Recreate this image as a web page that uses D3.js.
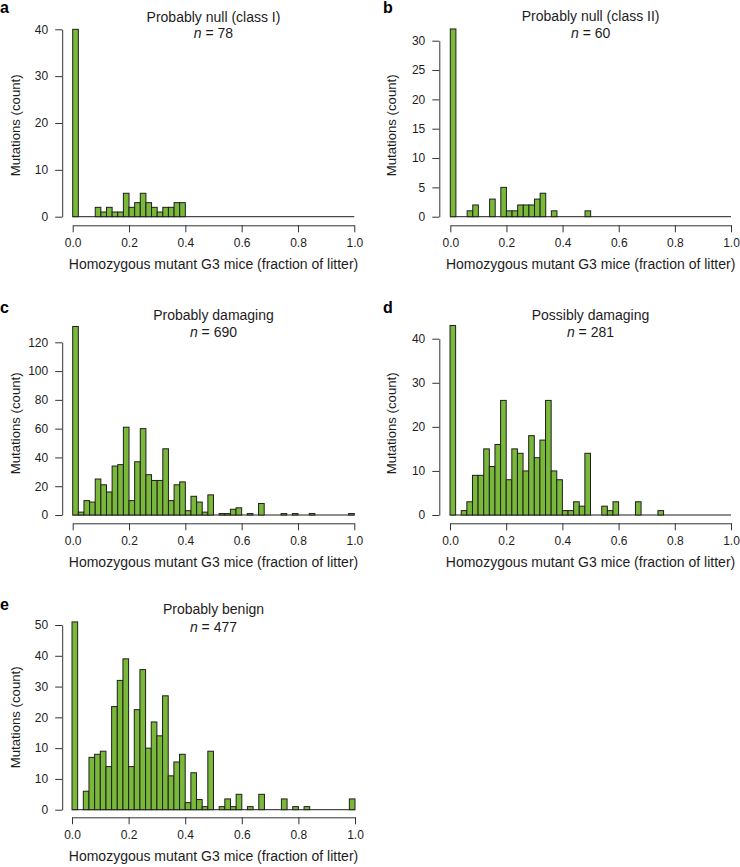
<!DOCTYPE html>
<html><head><meta charset="utf-8">
<script src="https://cdn.jsdelivr.net/npm/d3@7"></script>
<style>
body{margin:0;background:#fff;}
svg{display:block;font-family:"Liberation Sans",Arial,Helvetica,sans-serif;}
</style></head><body>
<svg id="chart" width="740" height="867"></svg>
<script>
// ---------- data ----------
const binWidth = 0.02;
const xTicks = [0, 0.2, 0.4, 0.6, 0.8, 1.0];
const xTickLabels = ["0.0", "0.2", "0.4", "0.6", "0.8", "1.0"];
const panelLetters = ["a", "b", "c", "d", "e"];
const panelTitles = ["Probably null (class I)", "Probably null (class II)", "Probably damaging", "Possibly damaging", "Probably benign"];
const panelN = [78, 60, 690, 281, 477];
const xTitle = "Homozygous mutant G3 mice (fraction of litter)";
const yTitle = "Mutations (count)";

// counts per bin (bin i covers [0.02*i, 0.02*(i+1)])
const countsA = [40,0,0,0,2,1,2,1,1,5,2,3,5,3,2,1,2,2,3,3,0,0,0,0,0,0,0,0,0,0,0,0,0,0,0,0,0,0,0,0,0,0,0,0,0,0,0,0,0,0];
const countsB = [32,0,0,1,2,0,0,3,0,5,1,1,2,2,2,3,4,0,1,0,0,0,0,0,1,0,0,0,0,0,0,0,0,0,0,0,0,0,0,0,0,0,0,0,0,0,0,0,0,0];
const countsC = [131,2,10,9,25,21,16,34,35,61,10,37,60,28,24,24,46,10,21,23,3,13,9,2,14,0,1,1,4,5,0,1,0,8,0,0,0,1,0,1,0,0,1,0,0,0,0,0,0,1];
const countsD = [43,0,1,3,9,9,15,11,16,26,8,15,14,10,18,13,17,26,10,8,1,1,3,2,14,0,0,2,1,3,0,0,0,3,0,0,0,1,0,0,0,0,0,0,0,0,0,0,0,0];
const countsE = [61,0,6,17,18,19,14,33.5,42,49,14,32.5,45.5,20,28.5,24,37,11,15.5,18,2.3,12,3.3,1,19,0,1,3.5,1,5,0,1,0,5,0,0,0,3.5,0,1,0,1,0,0,0,0,0,0,0,3.5];

const yTicksA = [0,10,20,30,40];
const yTicksB = [0,5,10,15,20,25,30];
const yTicksC = [0,20,40,60,80,100,120];
const yTicksD = [0,10,20,30,40];
const yTicksE = [0,10,20,30,40,50,60];
const yTickLabelsA = ["0","10","20","30","40"];
const yTickLabelsB = ["0","5","10","15","20","25","30"];
const yTickLabelsC = ["0","20","40","60","80","100","120"];
const yTickLabelsD = ["0","10","20","30","40"];
const yTickLabelsE = ["0","10","10","20","30","40","50"];

const panelCounts = [countsA, countsB, countsC, countsD, countsE];
const panelYTicks = [yTicksA, yTicksB, yTicksC, yTicksD, yTicksE];
const panelYTickLabels = [yTickLabelsA, yTickLabelsB, yTickLabelsC, yTickLabelsD, yTickLabelsE];

// ---------- layout (pixels) ----------
const layout = [
  {x0:72.7, x1:354.3, yBase:216.7, yTopPx:29.3, axisX:62.2, xAxisY:225.3, titleY:21.7, nY:38.3, letterX:0, letterY:13, yTitleX:15},
  {x0:450.3, x1:731, yBase:216.7, yTopPx:40.7, axisX:439.3, xAxisY:225.3, titleY:21, nY:37.5, letterX:383, letterY:13, yTitleX:391.5},
  {x0:72.7, x1:354.3, yBase:515, yTopPx:342.3, axisX:62.2, xAxisY:523.3, titleY:320, nY:336.7, letterX:0, letterY:313, yTitleX:15},
  {x0:450, x1:731, yBase:515, yTopPx:338.7, axisX:439.3, xAxisY:523.3, titleY:320, nY:336.7, letterX:383, letterY:313, yTitleX:391.5},
  {x0:72, x1:355, yBase:809.7, yTopPx:625, axisX:62.2, xAxisY:817.3, titleY:614.3, nY:631.7, letterX:0, letterY:610, yTitleX:15}
];

const textColor = "#1e1c1d";
const axisColor = "#333";
const barFill = "#7ab83a";
const barStroke = "#1f1f1f";

const svg = d3.select("#chart");

panelCounts.forEach((counts, p) => {
  const L = layout[p];
  const yTicks = panelYTicks[p];
  const yMaxTick = yTicks[yTicks.length - 1];
  const x = d3.scaleLinear().domain([0, 1]).range([L.x0, L.x1]);
  const y = d3.scaleLinear().domain([0, yMaxTick]).range([L.yBase, L.yTopPx]);
  const g = svg.append("g");

  // baseline (zero-height bins)
  g.append("line")
    .attr("x1", x(0)).attr("x2", x(1))
    .attr("y1", y(0)).attr("y2", y(0))
    .attr("stroke", barStroke).attr("stroke-width", 1);

  // bars
  const bins = counts.map((c, i) => ({x0: i * binWidth, x1: (i + 1) * binWidth, c}));
  g.selectAll("rect.bar").data(bins.filter(d => d.c > 0)).join("rect")
    .attr("class", "bar")
    .attr("x", d => x(d.x0))
    .attr("width", d => x(d.x1) - x(d.x0))
    .attr("y", d => y(d.c))
    .attr("height", d => y(0) - y(d.c))
    .attr("fill", barFill)
    .attr("stroke", barStroke)
    .attr("stroke-width", 1);

  // x axis
  const xAxis = d3.axisBottom(x).tickValues(xTicks)
    .tickFormat((d, i) => xTickLabels[i]).tickSize(7).tickSizeOuter(0).tickPadding(6);
  const gx = g.append("g").attr("transform", `translate(0,${L.xAxisY})`).call(xAxis);
  gx.select(".domain").attr("stroke", axisColor);
  gx.selectAll(".tick line").attr("stroke", axisColor);
  gx.selectAll(".tick text").attr("fill", textColor).attr("font-size", 12)
    .attr("font-family", "Liberation Sans, Arial, sans-serif");

  // y axis
  const yLabels = panelYTickLabels[p];
  const yAxis = d3.axisLeft(y).tickValues(yTicks)
    .tickFormat((d, i) => yLabels[i]).tickSize(7).tickSizeOuter(0).tickPadding(7);
  const gy = g.append("g").attr("transform", `translate(${L.axisX},0)`).call(yAxis);
  gy.select(".domain").attr("stroke", axisColor);
  gy.selectAll(".tick line").attr("stroke", axisColor);
  gy.selectAll(".tick text").attr("fill", textColor).attr("font-size", 12)
    .attr("font-family", "Liberation Sans, Arial, sans-serif");

  const cx = (L.x0 + L.x1) / 2;
  // title
  g.append("text").attr("x", cx).attr("y", L.titleY).attr("text-anchor", "middle")
    .attr("font-size", 14).attr("fill", textColor).text(panelTitles[p]);
  const nt = g.append("text").attr("x", cx).attr("y", L.nY).attr("text-anchor", "middle")
    .attr("font-size", 14).attr("fill", textColor);
  nt.append("tspan").attr("font-style", "italic").text("n");
  nt.append("tspan").text(" = " + panelN[p]);

  // x title
  g.append("text").attr("x", cx).attr("y", L.xAxisY + 43.5).attr("text-anchor", "middle")
    .attr("font-size", 14).attr("fill", textColor).text(xTitle);

  // y title
  const yc = L.xAxisY - 100;
  g.append("text").attr("transform", `translate(${L.yTitleX},${yc}) rotate(-90)`)
    .attr("text-anchor", "middle").attr("dominant-baseline", "central")
    .attr("font-size", 13.2).attr("fill", textColor).text(yTitle);

  // panel letter
  g.append("text").attr("x", L.letterX).attr("y", L.letterY)
    .attr("font-size", 16).attr("font-weight", "bold").attr("fill", "#000")
    .text(panelLetters[p]);
});
</script>
</body></html>
